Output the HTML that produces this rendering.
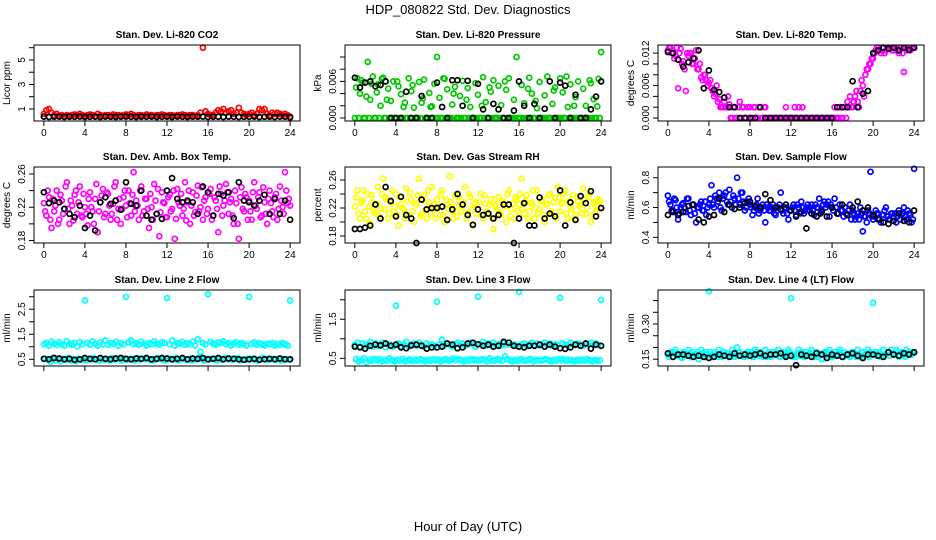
<!DOCTYPE html>
<html><head><meta charset="utf-8"><style>
html,body{margin:0;padding:0;background:#fff;}
svg{display:block;font-family:"Liberation Sans",sans-serif;}
</style></head><body>
<svg id="chart" width="936" height="540" viewBox="0 0 936 540">
<text x="468" y="14" text-anchor="middle" font-size="13">HDP_080822  Std. Dev. Diagnostics</text>
<text x="468" y="531" text-anchor="middle" font-size="13">Hour of Day (UTC)</text>
</svg>
<script>
// ---- data ----
const xTicks = [0,4,8,12,16,20,24];
const co2Red = [0.6,0.9,1.0,0.7,0.5,0.6,0.45,0.5,0.4,0.5,0.45,0.5,0.55,
0.5,0.6,0.5,0.45,0.5,0.55,0.5,0.4,0.6,0.5,0.45,0.5,
0.5,0.45,0.55,0.5,0.5,0.45,0.5,0.55,0.5,0.6,0.5,0.45,
0.5,0.5,0.45,0.55,0.5,0.5,0.45,0.5,0.5,0.55,0.5,0.45,
0.5,0.5,0.45,0.5,0.5,0.55,0.5,0.45,0.5,0.5,0.45,0.5,
0.7,6.0,0.8,0.6,0.5,0.5,0.7,0.9,0.8,1.0,0.7,0.8,
0.9,0.6,0.7,1.1,0.7,0.6,0.5,0.6,0.7,0.5,0.6,1.0,
0.9,1.0,0.6,0.5,0.7,0.6,0.7,0.6,0.5,0.6,0.5,0.3];
const co2Black = [0.38,0.35,0.36,0.38,0.35,0.37,0.36,0.38,0.35,0.36,0.37,0.35,0.38,0.36,0.35,0.37,0.38,0.36,0.35,0.37,0.36,0.38,0.35,0.36,0.37,0.35,0.38,0.36,0.35,0.37,0.36,0.38,0.35,0.36,0.37,0.35,0.38,0.36,0.35,0.37,0.36,0.38,0.35,0.36,0.37,0.35,0.38,0.36,0.35];
const co2Ticks = [1,2,3,4,5,6];
const co2Labels = [1,3,5];

const presGreen = [0,6.5,4.0,5.8,0,9.2,3.0,6.8, 0,5.5,2.0,6.6,0,4.8,2.8,6.0, 0,5.2,3.9,1.8,0,6.5,4.4,1.7, 0,5.9,2.5,6.3,0,4.1,1.9,5.6,
10.0,3.3,0,6.4,4.7,0,2.2,5.1, 0,3.6,6.1,0,4.9,1.8,0,5.7, 3.8,0,6.7,2.6,0,4.3,6.2,0, 5.3,2.1,0,4.6,6.5,0,3.0,10.0,
0,5.4,2.4,0,6.6,4.0,0,1.6, 5.9,0,3.7,6.8,0,2.3,5.0,0, 6.5,4.2,0,1.8,5.5,0,3.4,6.0, 0,4.8,2.0,0,5.7,3.1,0,6.4, 10.8];
const presGreen2 = [5.0,0,6.2,0,3.5,0,5.6,0, 4.2,0,6.4,0,3.0,0,0,0, 6.0,0,0,2.5,0,0,5.4,0, 0,0,3.2,0,0,1.8,0,0,
0,0,6.5,0,0,0,4.0,0, 0,0,0,3.0,0,0,0,0, 0,2.0,0,0,5.0,0,0,0, 0,0,6.0,0,0,0,0,0,
0,0,0,4.8,0,0,2.8,0, 0,0,0,0,0,4.5,0,0, 0,0,6.8,0,0,2.0,0,0, 0,0,0,6.2,0,0,1.9,0];
const presBlack = [6.6,5.0,5.8,6.0,5.2,5.4,6.0,0,0,0,4.3,0,0,3.6,0,0,5.8,1.8,0,6.2,6.2,2.0,6.1,0,5.6,1.4,0,2.3,1.4,0,0,1.2,6.0,2.0,0,2.3,0,1.5,6.0,0,5.8,5.3,0,3.8,0,0,1.4,3.5,6.0];
const presTicks = [0,2,4,6,8,10];
const presLabels = [0,6];

const tempMag = [12.5,13.0,12.0,11.5,5.5,12.8,10.5,5.0, 11.5,12.0,10.0,12.5,9.0,7.5,8.0,7.0, 6.5,5.5,4.0,6.0,3.5,2.0,3.0,2.0, 2.5,0,2.0,0,3.0,2.0,0,2.0,
2.0,0,2.0,0,2.0,0,2.0,0, 0,0,0,0,0,0,2.0,0, 0,0,0,2.0,0,0,0,0, 0,0,0,0,0,0,0,0,
0,2.0,0,2.0,0,2.0,3.0,4.0, 2.0,4.0,3.0,5.0,6.0,8.0,9.0,10.0, 11.0,12.5,13.0,12.0,13.0,12.5,13.0,13.0, 12.5,13.0,12.0,13.0,8.5,12.5,13.0,13.0, 13.0];
const tempMag2 = [13,12,11,13,12,10,9,12, 12,10,11,9,10,7,8,6, 7,5,4.5,3,2,2,2,4, 0,2,0,2,0,2,0,2,
0,2,0,2,0,2,0,0, 0,0,0,0,0,0,0,0, 0,2,0,0,2,0,0,0, 0,0,0,0,0,0,0,0,
0,0,0,0,2,0,2,2, 3,5,2,7,4,9,10,11, 12,13,12.5,13,12,13,13,12.5, 13,12.5,13,12,13,13,12.5,13];
const tempBlack = [12.2,12.0,10.8,9.5,10.3,11.0,12.5,5.5, 8.8,5.2,4.8,3.8,2.0,2.0,0,0, 0,0,2.0,0,0,0,0,0, 0,0,0,0,0,0,0,0, 0,2.0,2.0,2.0,6.8,2.0,4.5,5.0, 12.0,12.5,13.0,12.8,13.0,12.5,13.0,12.6, 13.0];
const tempTicks = [0,2,4,6,8,10,12];
const tempLabels = [0,6,12];

const ambMag = [.225,.210,.232,.195,.215,.240,.205,.228, .218,.250,.200,.222,.235,.212,.245,.208, .220,.198,.238,.215,.230,.190,.226,.242,
.212,.236,.205,.224,.250,.218,.200,.232, .222,.240,.210,.262,.228,.205,.245,.215, .230,.195,.220,.248,.212,.185,.238,.225,
.208,.235,.218,.182,.242,.222,.210,.250, .226,.200,.238,.214,.246,.220,.205,.232, .218,.242,.210,.228,.190,.236,.222,.248,
.212,.230,.200,.225,.182,.244,.215,.232, .228,.205,.250,.218,.238,.210,.226,.200, .240,.215,.232,.205,.245,.220,.262,.225, .222];
const ambMag2 = [.215,.240,.205,.230,.222,.200,.235,.212, .245,.218,.228,.204,.240,.226,.210,.236, .212,.230,.220,.200,.248,.215,.234,.208,
.238,.222,.212,.245,.205,.230,.218,.240, .208,.225,.235,.215,.222,.240,.210,.230, .218,.236,.205,.228,.242,.214,.226,.208,
.232,.215,.240,.206,.226,.236,.218,.204, .240,.222,.210,.234,.215,.244,.228,.212, .236,.205,.232,.218,.245,.210,.228,.238,
.226,.210,.240,.200,.232,.218,.236,.205, .215,.238,.222,.232,.208,.244,.212,.230, .225,.208,.236,.218,.228,.212,.240,.230];
const ambBlack = [.238,.225,.228,.226,.218,.212,.208,.222,.195,.210,.192,.226,.232,.224,.228,.217,.250,.224,.222,.240,.210,.205,.212,.206,.240,.255,.230,.226,.228,.226,.212,.245,.238,.210,.236,.234,.238,.207,.250,.228,.226,.222,.228,.235,.212,.230,.212,.228,.205];
const ambTicks = [.18,.20,.22,.24,.26];
const ambLabels = [.18,.22,.26];

const rhYel = [.222,.245,.205,.230,.215,.240,.198,.228, .212,.250,.220,.262,.235,.205,.228,.215, .240,.195,.226,.218,.248,.210,.232,.200,
.225,.262,.212,.238,.205,.228,.250,.218, .232,.210,.245,.200,.226,.265,.215,.238, .208,.230,.222,.250,.212,.236,.195,.228,
.218,.240,.205,.226,.212,.232,.190,.222, .236,.210,.228,.200,.245,.218,.205,.232, .225,.262,.212,.238,.215,.228,.205,.245,
.218,.232,.200,.226,.240,.212,.235,.250, .215,.228,.245,.205,.222,.238,.210,.230, .225,.248,.212,.236,.200,.228,.215,.232, .220];
const rhYel2 = [.235,.212,.228,.245,.205,.222,.238,.215, .226,.208,.240,.218,.232,.212,.245,.222, .210,.236,.220,.205,.230,.242,.215,.226,
.238,.208,.232,.218,.245,.212,.225,.205, .222,.240,.210,.232,.218,.228,.205,.222, .236,.215,.228,.205,.240,.218,.226,.212,
.228,.210,.238,.215,.225,.205,.232,.218, .212,.230,.222,.240,.208,.226,.235,.215, .240,.218,.230,.205,.226,.245,.220,.212,
.230,.210,.225,.238,.215,.228,.205,.235, .226,.240,.212,.230,.218,.205,.236,.222, .212,.232,.220,.240,.208,.226,.218,.230];
const rhBlack = [.190,.190,.192,.195,.225,.205,.250,.230,.208,.236,.210,.205,.170,.232,.218,.220,.220,.222,.203,.218,.240,.225,.210,.196,.218,.210,.212,.205,.210,.225,.225,.170,.205,.227,.195,.195,.235,.205,.212,.208,.245,.195,.228,.203,.237,.227,.244,.208,.220];
const rhTicks = [.18,.20,.22,.24,.26];
const rhLabels = [.18,.22,.26];

const flowBlue = [.68,.62,.58,.65,.52,.60,.63,.57, .66,.55,.62,.50,.60,.64,.58,.55, .62,.75,.60,.66,.70,.58,.68,.64, .72,.60,.66,.80,.62,.70,.58,.64,
.62,.55,.60,.66,.58,.62,.50,.60, .58,.62,.55,.60,.70,.56,.60,.52, .58,.62,.55,.60,.64,.56,.60,.58, .62,.55,.60,.66,.58,.64,.62,.54,
.60,.66,.56,.62,.58,.60,.55,.62, .58,.52,.56,.60,.44,.54,.58,.84, .52,.58,.56,.50,.55,.60,.52,.56, .54,.50,.58,.55,.60,.52,.56,.50, .86];
const flowBlue2 = [.64,.58,.66,.60,.56,.62,.60,.66, .58,.62,.56,.60,.62,.58,.64,.60, .66,.62,.68,.64,.60,.66,.70,.62, .64,.68,.62,.66,.70,.64,.60,.66,
.60,.58,.62,.56,.60,.58,.62,.58, .60,.56,.58,.62,.58,.60,.56,.58, .60,.58,.62,.56,.60,.58,.62,.60, .58,.62,.60,.56,.62,.60,.64,.62,
.58,.60,.56,.58,.54,.56,.58,.52, .56,.54,.52,.56,.54,.50,.56,.54, .54,.56,.52,.55,.58,.54,.52,.56, .56,.54,.52,.56,.54,.58,.55,.52];
const flowBlack = [.55,.57,.55,.57,.61,.62,.52,.50,.54,.55,.66,.57,.62,.59,.60,.63,.64,.61,.60,.69,.65,.60,.59,.62,.58,.54,.57,.46,.56,.54,.57,.54,.60,.56,.62,.55,.60,.64,.58,.60,.55,.52,.50,.49,.51,.56,.51,.50,.58];
const flowTicks = [.4,.5,.6,.7,.8];
const flowLabels = [.4,.6,.8];

const l2Cyan = [1.10,1.15,1.05,1.20,1.12,1.08,1.18,1.10, 1.05,1.22,1.12,1.08,1.15,1.02,1.18,1.10, 2.85,1.15,1.08,1.22,1.12,1.05,1.18,1.10, 1.25,1.08,1.15,1.12,1.20,1.05,1.15,1.10,
3.00,1.18,1.25,1.10,1.15,1.08,1.20,1.12, 1.05,1.15,1.10,1.22,1.12,1.08,1.18,1.15, 2.95,1.10,1.25,1.05,1.15,1.12,1.20,1.08, 1.15,1.10,1.20,1.05,1.30,0.80,1.15,1.10,
3.10,1.20,1.12,1.08,1.18,1.15,1.22,1.10, 1.15,1.05,1.12,1.18,1.08,1.15,1.10,1.05, 3.00,1.12,1.18,1.08,1.15,1.10,1.05,1.12, 1.10,1.15,1.05,1.12,1.08,1.15,1.10,1.05, 2.85];
const l2Cyan2 = [.52,.48,.40,.55,.45,.50,.42,.52, .48,.55,.45,.50,.42,.52,.48,.50, .45,.52,.48,.55,.50,.45,.52,.48, .50,.45,.55,.48,.52,.50,.45,.52,
.48,.52,.50,.45,.55,.48,.52,.50, .52,.48,.45,.50,.55,.52,.48,.45, .50,.52,.48,.55,.45,.50,.52,.48, .52,.45,.50,.48,.55,.50,.45,.52,
.48,.52,.50,.45,.52,.48,.55,.50, .50,.48,.52,.55,.45,.50,.48,.52, .52,.50,.48,.45,.52,.55,.50,.48, .50,.52,.48,.50,.45,.52,.50,.48];
const l2Black = [.52,.50,.55,.53,.50,.52,.48,.50,.55,.52,.50,.55,.52,.50,.53,.55,.52,.50,.53,.52,.55,.50,.52,.55,.53,.50,.52,.55,.50,.53,.52,.55,.50,.52,.55,.50,.53,.52,.50,.48,.50,.52,.48,.50,.52,.50,.53,.50,.50];
const l2Ticks = [0.5,1.0,1.5,2.0,2.5,3.0];
const l2Labels = [0.5,1.5,2.5];

const l3Cyan = [.85,.90,.80,.88,.82,.86,.92,.80, .88,.82,.85,.90,.78,.86,.84,.80, 1.85,.88,.82,.86,.92,.80,.85,.88, .82,.90,.85,.80,.88,.84,.86,.82,
1.95,.85,.98,.82,.88,.85,.80,.86, .90,.84,.88,.82,.85,.90,.86,.80, 2.08,.86,.92,.82,.88,.85,.90,.84, .86,.82,.88,.85,.90,.84,.86,.82,
2.20,.85,.88,.82,.86,.90,.84,.88, .82,.86,.90,.85,.88,.82,.86,.84, 2.05,.88,.85,.82,.90,.86,.84,.88, .85,.82,.88,.86,.90,.84,.88,.85, 2.00];
const l3Cyan2 = [.48,.42,.45,.50,.40,.46,.44,.48, .45,.48,.42,.46,.44,.50,.45,.42, .46,.44,.48,.42,.45,.47,.43,.46, .44,.48,.45,.42,.46,.44,.48,.45,
.46,.42,.45,.48,.44,.46,.50,.45, .48,.45,.42,.46,.44,.48,.45,.46, .44,.48,.46,.42,.50,.45,.44,.48, .46,.44,.55,.48,.45,.42,.46,.44,
.48,.45,.44,.46,.48,.42,.45,.46, .44,.46,.48,.45,.42,.46,.44,.48, .45,.48,.44,.46,.45,.42,.46,.44, .46,.44,.48,.45,.42,.46,.44,.45];
const l3Black = [.80,.78,.75,.82,.85,.83,.88,.82,.85,.78,.76,.83,.85,.82,.75,.78,.78,.80,.88,.85,.76,.78,.88,.90,.86,.82,.85,.80,.82,.92,.90,.82,.80,.78,.82,.82,.85,.80,.85,.80,.76,.74,.78,.85,.82,.88,.75,.85,.82];
const l3Ticks = [0.5,1.0,1.5,2.0];
const l3Labels = [0.5,1.5];

const l4Cyan = [.17,.18,.16,.19,.17,.16,.18,.17, .19,.16,.18,.17,.15,.19,.17,.18, .44,.16,.18,.17,.19,.16,.18,.17, .17,.19,.16,.20,.18,.17,.16,.18,
.18,.16,.19,.17,.18,.16,.19,.17, .16,.18,.17,.19,.16,.18,.17,.19, .41,.17,.16,.19,.18,.16,.18,.17, .19,.16,.18,.17,.15,.18,.17,.19,
.16,.18,.17,.19,.16,.18,.17,.16, .18,.17,.19,.16,.18,.17,.19,.18, .39,.17,.18,.16,.19,.17,.18,.19, .17,.19,.16,.18,.17,.19,.18,.17, .18];
const l4Cyan2 = [.16,.175,.18,.165,.17,.155,.18,.165, .175,.16,.17,.18,.165,.175,.16,.17, .18,.165,.17,.16,.175,.18,.165,.17, .16,.175,.17,.18,.165,.16,.175,.17,
.17,.16,.18,.165,.175,.17,.16,.18, .165,.17,.18,.16,.175,.165,.17,.18, .16,.17,.175,.165,.18,.16,.17,.175, .165,.18,.16,.17,.175,.165,.18,.16,
.17,.165,.18,.175,.16,.17,.165,.18, .175,.16,.17,.18,.165,.175,.16,.17, .18,.165,.175,.16,.17,.18,.165,.175, .17,.18,.165,.175,.16,.17,.18,.175];
const l4Black = [.175,.16,.17,.17,.165,.16,.165,.16,.155,.16,.17,.165,.16,.175,.165,.17,.165,.17,.175,.165,.17,.17,.175,.16,.165,.125,.17,.165,.16,.175,.17,.155,.17,.165,.16,.17,.175,.165,.155,.17,.17,.165,.16,.18,.17,.165,.175,.17,.18];
const l4Ticks = [.15,.20,.25,.30,.35,.40];
const l4Labels = [.15,.30];

// ---- rendering ----
const NS = 'http://www.w3.org/2000/svg';
const svg = document.getElementById('chart');
function mk(tag, attrs, parent){
  const e = document.createElementNS(NS, tag);
  for (const k in attrs) e.setAttribute(k, attrs[k]);
  (parent||svg).appendChild(e);
  return e;
}
function hoursFor(arr, step, offset){ const h=[]; for(let i=0;i<arr.length;i++) h.push(offset + i*step); return h; }

const colX = [34, 345, 658];
const rowY = [45, 167, 290];
const W = 266, H = 76;
const XLO = -0.96, XHI = 24.96;

function panel(o){
  const bx = colX[o.col], by = rowY[o.row];
  const g = mk('g', {});
  
  
  const xs = v => bx + (v - XLO) / (XHI - XLO) * W;
  const ys = v => by + H - (v - o.lo) / (o.hi - o.lo) * H;
  const t = mk('text', {x: bx + W/2, y: by - 7, 'text-anchor':'middle', 'font-size':'10', 'font-weight':'bold'}, g);
  t.textContent = o.title;
  
  
  const pts = mk('g', {fill:'none', 'stroke-width':'1.7'}, g);
  
  
  o.series.forEach(s => {
    const hrs = hoursFor(s.data, s.step, s.off);
    s.data.forEach((v, i) => {
      const c = mk('circle', {cx: xs(hrs[i]).toFixed(1), cy: ys(v).toFixed(1), r: 2.5, stroke: s.color}, pts);
      
      
    });
  });
  const box = mk('rect', {x: bx, y: by, width: W, height: H, fill:'none', stroke:'#000', 'stroke-width':'1'}, g);
  
  
  const xa = mk('g', {stroke:'#000', 'stroke-width':'1'}, g);
  
  
  xTicks.forEach(v => {
    const x = xs(v);
    mk('line', {x1:x, x2:x, y1:by+H, y2:by+H+5}, xa);
    if (o.row < 2) {
      const l = mk('text', {x:x, y:by+H+15, 'text-anchor':'middle', 'font-size':'10', stroke:'none', fill:'#000'}, xa);
      l.textContent = v;
      
      
    }
  });
  const ya = mk('g', {stroke:'#000', 'stroke-width':'1'}, g);
  
  
  o.ticks.forEach(v => {
    const y = ys(v);
    mk('line', {x1:bx-5, x2:bx, y1:y, y2:y}, ya);
  });
  o.labels.forEach(v => {
    const y = ys(v), x = bx - 9;
    const l = mk('text', {x:x, y:y, 'text-anchor':'middle', 'font-size':'10', stroke:'none', fill:'#000', transform:'rotate(-90 '+x+' '+y+')'}, ya);
    l.textContent = o.fmt(v);
    
    
  });
  const yt = mk('text', {x: bx-24, y: by+H/2, 'text-anchor':'middle', 'font-size':'10', transform:'rotate(-90 '+(bx-24)+' '+(by+H/2)+')'}, g);
  yt.textContent = o.ylab;
  
  
}

const f0 = v => String(v);
const f3k = v => (v/1000).toFixed(3);
const f2 = v => v.toFixed(2);
const f1 = v => v.toFixed(1);

panel({name:'panel-co2', row:0, col:0, title:'Stan. Dev. Li-820 CO2', ylab:'Licor ppm', lo:0.02, hi:6.22, ticks:co2Ticks, labels:co2Labels, fmt:f0,
  series:[{data:co2Red, color:'#ff0000', step:0.25, off:0, label:'co2'},{data:co2Black, color:'#000', step:0.5, off:0, label:'co2-black'}]});
panel({name:'panel-pressure', row:0, col:1, title:'Stan. Dev. Li-820 Pressure', ylab:'kPa', lo:-0.5, hi:11.97, ticks:presTicks, labels:presLabels, fmt:f3k,
  series:[{data:presGreen, color:'#00c800', step:0.25, off:0, label:'pressure'},{data:presGreen2, color:'#00c800', step:0.25, off:0.125, label:'pressure'},{data:presBlack, color:'#000', step:0.5, off:0, label:'pressure-black'}]});
panel({name:'panel-temp', row:0, col:2, title:'Stan. Dev. Li-820 Temp.', ylab:'degrees C', lo:-0.55, hi:13.5, ticks:tempTicks, labels:tempLabels, fmt:f3k,
  series:[{data:tempMag, color:'#ff00ff', step:0.25, off:0, label:'temp'},{data:tempMag2, color:'#ff00ff', step:0.25, off:0.125, label:'temp'},{data:tempBlack, color:'#000', step:0.5, off:0, label:'temp-black'}]});
panel({name:'panel-ambbox', row:1, col:0, title:'Stan. Dev. Amb. Box Temp.', ylab:'degrees C', lo:0.177, hi:0.2684, ticks:ambTicks, labels:ambLabels, fmt:f2,
  series:[{data:ambMag, color:'#ff00ff', step:0.25, off:0, label:'ambbox'},{data:ambMag2, color:'#ff00ff', step:0.25, off:0.125, label:'ambbox'},{data:ambBlack, color:'#000', step:0.5, off:0, label:'ambbox-black'}]});
panel({name:'panel-rh', row:1, col:1, title:'Stan. Dev. Gas Stream RH', ylab:'percent', lo:0.17, hi:0.2786, ticks:rhTicks, labels:rhLabels, fmt:f2,
  series:[{data:rhYel, color:'#ffff00', step:0.25, off:0, label:'rh'},{data:rhYel2, color:'#ffff00', step:0.25, off:0.125, label:'rh'},{data:rhBlack, color:'#000', step:0.5, off:0, label:'rh-black'}]});
panel({name:'panel-sampleflow', row:1, col:2, title:'Stan. Dev. Sample Flow', ylab:'ml/min', lo:0.362, hi:0.872, ticks:flowTicks, labels:flowLabels, fmt:f1,
  series:[{data:flowBlue, color:'#0000ff', step:0.25, off:0, label:'sampleflow'},{data:flowBlue2, color:'#0000ff', step:0.25, off:0.125, label:'sampleflow'},{data:flowBlack, color:'#000', step:0.5, off:0, label:'sampleflow-black'}]});
panel({name:'panel-line2', row:2, col:0, title:'Stan. Dev. Line 2 Flow', ylab:'ml/min', lo:0.232, hi:3.27, ticks:l2Ticks, labels:l2Labels, fmt:f1,
  series:[{data:l2Cyan, color:'#00ffff', step:0.25, off:0, label:'line2'},{data:l2Cyan2, color:'#00ffff', step:0.25, off:0.125, label:'line2'},{data:l2Black, color:'#000', step:0.5, off:0, label:'line2-black'}]});
panel({name:'panel-line3', row:2, col:1, title:'Stan. Dev. Line 3 Flow', ylab:'ml/min', lo:0.303, hi:2.25, ticks:l3Ticks, labels:l3Labels, fmt:f1,
  series:[{data:l3Cyan, color:'#00ffff', step:0.25, off:0, label:'line3'},{data:l3Cyan2, color:'#00ffff', step:0.25, off:0.125, label:'line3'},{data:l3Black, color:'#000', step:0.5, off:0, label:'line3-black'}]});
panel({name:'panel-line4', row:2, col:2, title:'Stan. Dev. Line 4 (LT) Flow', ylab:'ml/min', lo:0.121, hi:0.445, ticks:l4Ticks, labels:l4Labels, fmt:f2,
  series:[{data:l4Cyan, color:'#00ffff', step:0.25, off:0, label:'line4'},{data:l4Cyan2, color:'#00ffff', step:0.25, off:0.125, label:'line4'},{data:l4Black, color:'#000', step:0.5, off:0, label:'line4-black'}]});
</script>
</body></html>
